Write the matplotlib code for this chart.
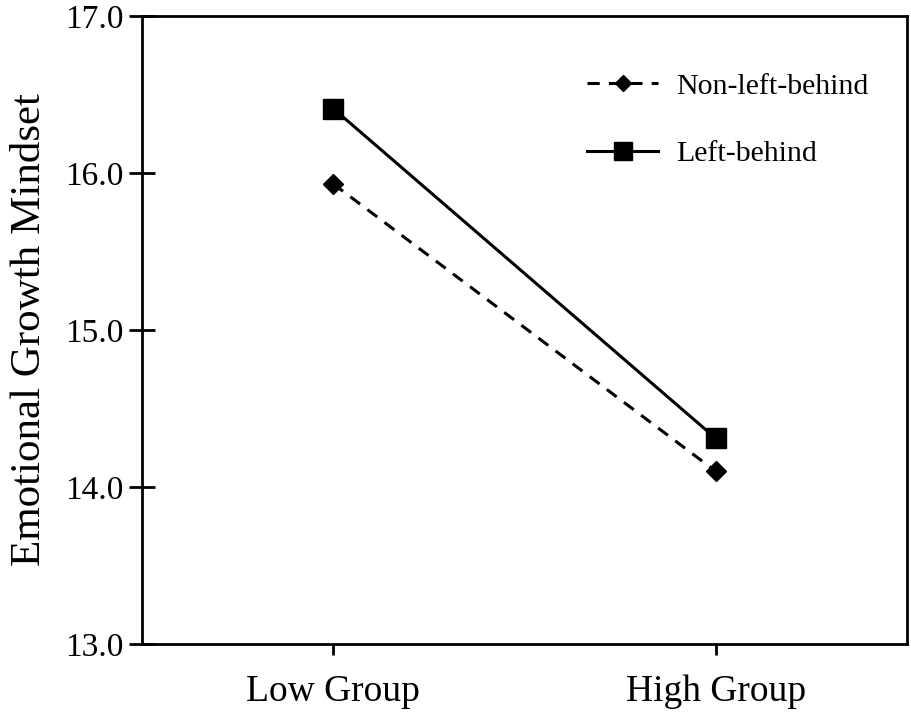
import matplotlib.pyplot as plt

# data
groups = ["Low Group", "High Group"]
non_left_behind = [15.93, 14.10]
left_behind = [16.41, 14.31]
y_ticks = [13.0, 14.0, 15.0, 16.0, 17.0]

plt.rcParams['font.family'] = ['Liberation Serif', 'DejaVu Serif']

fig = plt.figure(figsize=(9.12, 7.22), dpi=100)
ax = fig.add_axes([0.1557, 0.108, 0.8388, 0.870])

x = range(len(groups))
ax.plot(x, non_left_behind, linestyle=(0, (4, 3)), color='black', linewidth=2.2,
        marker='D', markersize=10, label='Non-left-behind')
ax.plot(x, left_behind, linestyle='-', color='black', linewidth=2.2,
        marker='s', markersize=15, label='Left-behind')

ax.set_xlim(-0.5, 1.5)
ax.set_ylim(13.0, 17.0)
ax.set_xticks(list(x))
ax.set_xticklabels(groups, fontsize=27)
ax.set_yticks(y_ticks)
ax.set_yticklabels([f"{v:.1f}" for v in y_ticks], fontsize=24)

ax.tick_params(axis='y', direction='inout', length=19, width=2, pad=4)
ax.tick_params(axis='x', direction='out', length=8, width=2, pad=14)
for s in ax.spines.values():
    s.set_linewidth(2)

ax.set_ylabel("Emotional Growth Mindset", fontsize=31, labelpad=11)

leg = ax.legend(loc='upper right', bbox_to_anchor=(0.985, 0.952), frameon=False,
                fontsize=21.5, handlelength=2.4, handletextpad=0.6, labelspacing=1.35,
                markerscale=0.85)

plt.savefig("out.png", dpi=100)
